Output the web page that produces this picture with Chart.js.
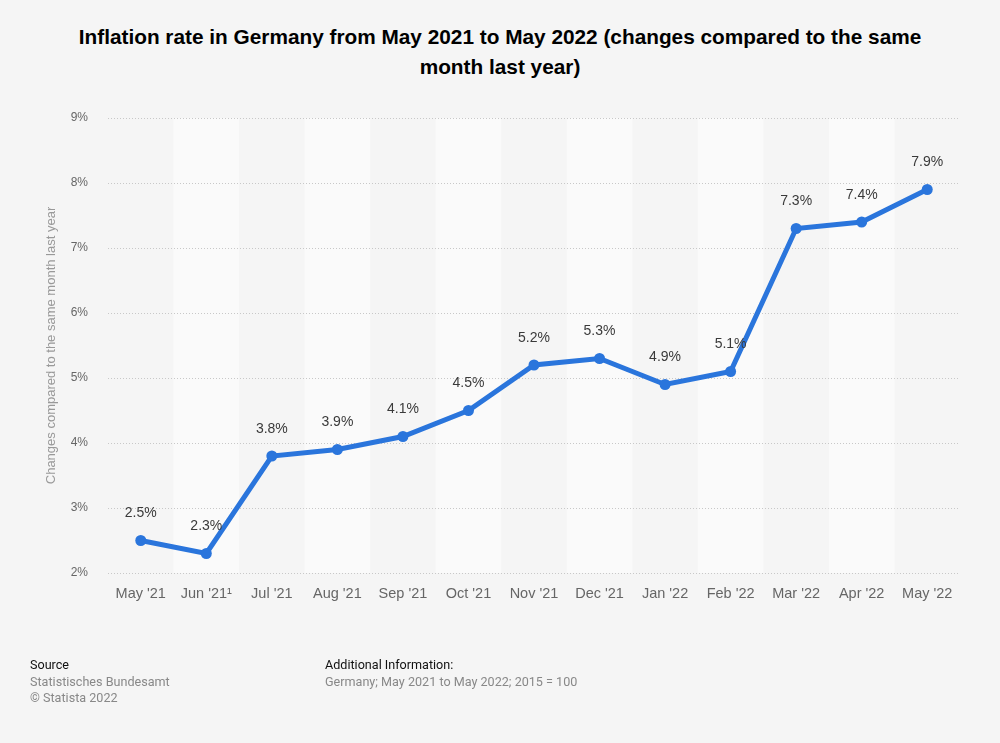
<!DOCTYPE html>
<html>
<head>
<meta charset="utf-8">
<script src="https://cdn.jsdelivr.net/npm/chart.js@4"></script>
<style>
  html,body{margin:0;padding:0;background:#f5f5f5;}
  #wrap{position:relative;width:1000px;height:743px;overflow:hidden;background:#f5f5f5;}
  #title{position:absolute;left:0;top:22px;width:1000px;text-align:center;font-family:"Liberation Sans",Arial,sans-serif;font-weight:bold;font-size:20.8px;line-height:30px;color:#000;}
  canvas{position:absolute;left:0;top:0;}
  .ft{position:absolute;font-family:Roboto,"Liberation Sans",sans-serif;font-size:12.6px;line-height:16.5px;}
  .h{color:#111;}
  .g{color:#888;}
</style>
</head>
<body>
<div id="wrap">
  <div id="title">Inflation rate in Germany from May 2021 to May 2022 (changes compared to the same<br>month last year)</div>
  <canvas id="c" width="1000" height="743"></canvas>
  <div class="ft" style="left:30px;top:657px;"><div class="h">Source</div><div class="g">Statistisches Bundesamt</div><div class="g">© Statista 2022</div></div>
  <div class="ft" style="left:325px;top:657px;"><div class="h">Additional Information:</div><div class="g">Germany; May 2021 to May 2022; 2015 = 100</div></div>
</div>
<script>
const categories = ["May '21","Jun '21\u00B9","Jul '21","Aug '21","Sep '21","Oct '21","Nov '21","Dec '21","Jan '22","Feb '22","Mar '22","Apr '22","May '22"];
const inflation = [2.5, 2.3, 3.8, 3.9, 4.1, 4.5, 5.2, 5.3, 4.9, 5.1, 7.3, 7.4, 7.9];
const yTicks = [2,3,4,5,6,7,8,9];

const bands = {
  id:'bands',
  beforeDraw(chart){
    const {ctx, chartArea, scales:{x}} = chart;
    ctx.save();
    const w = x.getPixelForValue(1) - x.getPixelForValue(0);
    for(let i=1;i<categories.length;i+=2){
      const cx = x.getPixelForValue(i);
      ctx.fillStyle = '#fafafa';
      ctx.fillRect(cx - w/2, chartArea.top, w, chartArea.bottom - chartArea.top);
    }
    ctx.restore();
  }
};
const labels = {
  id:'labels',
  afterDatasetsDraw(chart){
    const {ctx} = chart;
    const meta = chart.getDatasetMeta(0);
    ctx.save();
    ctx.font = '14px "Liberation Sans", Arial, sans-serif';
    ctx.fillStyle = '#3a3a3a';
    ctx.textAlign = 'center';
    ctx.textBaseline = 'middle';
    meta.data.forEach((p,i)=>{
      ctx.fillText(inflation[i].toFixed(1)+'%', p.x, p.y - 27);
    });
    ctx.restore();
  }
};

new Chart(document.getElementById('c'), {
  type:'line',
  data:{
    labels: categories,
    datasets:[{
      data: inflation,
      borderColor:'#2a75dc',
      backgroundColor:'#2a75dc',
      borderWidth:5,
      pointRadius:5.5,
      pointHoverRadius:5.5,
      pointBackgroundColor:'#2a75dc',
      pointBorderWidth:0,
      tension:0
    }]
  },
  options:{
    responsive:false,
    animation:false,
    devicePixelRatio:1,
    layout:{padding:{left:0,right:40,top:118,bottom:130}},
    plugins:{legend:{display:false},tooltip:{enabled:false},title:{display:false}},
    scales:{
      x:{
        offset:true,
        grid:{display:false,drawTicks:false},
        border:{display:false},
        ticks:{color:'#666',font:{size:14.5,family:'"Liberation Sans", Arial, sans-serif'},padding:12,maxRotation:0,autoSkip:false},
        afterFit(s){ s.height = 40; }
      },
      y:{
        min:2,max:9,
        afterBuildTicks(s){ s.ticks = yTicks.map(v=>({value:v})); },
        grid:{color:'#c8c8c8',drawTicks:false,lineWidth:1},
        border:{display:false,dash:[1,2]},
        ticks:{color:'#666',font:{size:12,family:'"Liberation Sans", Arial, sans-serif'},padding:20,callback:v=>v+'%'},
        title:{display:true,text:'Changes compared to the same month last year',color:'#999',font:{size:13,family:'"Liberation Sans", Arial, sans-serif'},padding:{top:44,bottom:0}},
        afterFit(s){ s.width = 108; }
      }
    }
  },
  plugins:[bands,labels]
});
</script>
</body>
</html>
